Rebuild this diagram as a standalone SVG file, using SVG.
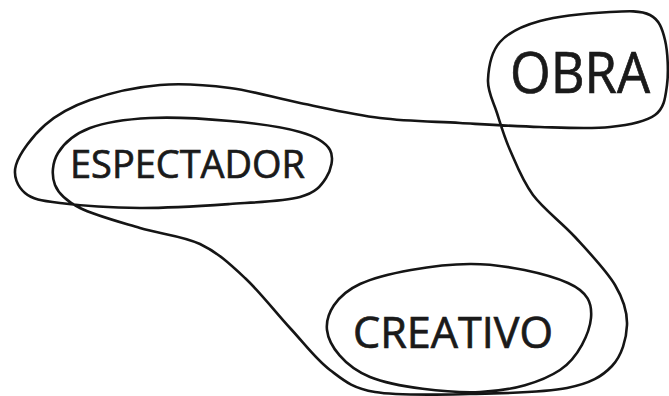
<svg xmlns="http://www.w3.org/2000/svg" width="669" height="396" viewBox="0 0 669 396">
<style>
.ln{fill:none;stroke:#151515;stroke-width:2.6;stroke-linecap:round;stroke-linejoin:round}
.lb{font-family:"Open Sans","Noto Sans","Liberation Sans",sans-serif;fill:#1a1a1a;stroke:#1a1a1a;stroke-width:0.7;font-weight:400}
</style>
<rect width="669" height="396" fill="#ffffff"/>
<g id="connectors">
<path class="ln" d="M300,197 C316,192.7 321,185.8 326,178 C331,170.2 334.3,157.7 330,150 C325.7,142.3 316.7,136.8 300,132 C283.3,127.2 255,123.3 230,121 C205,118.7 173.3,116.8 150,118 C126.7,119.2 105.3,122.2 90,128 C74.7,133.8 63.8,143.5 58,153 C52.2,162.5 51.3,175.8 55,185 C58.7,194.2 65.8,200.8 80,208 C94.2,215.2 120,222 140,228 C160,234 182.5,235.7 200,244 C217.5,252.3 230,264 245,278 C260,292 275.8,312.7 290,328 C304.2,343.3 315.8,359.3 330,370 C344.2,380.7 351.7,388 375,392 C398.3,396 438,394.7 470,394 C502,393.3 543.3,392.7 567,388 C590.7,383.3 602,376.5 612,366 C622,355.5 626.5,338.5 627,325 C627.5,311.5 623.7,299.7 615,285 C606.3,270.3 588.7,252 575,237 C561.3,222 543.8,209.5 533,195 C522.2,180.5 516,163.7 510,150 C504,136.3 500.7,124.7 497,113 C493.3,101.3 487.5,91.8 488,80 C488.5,68.2 491.3,51.8 500,42 C508.7,32.2 521.7,26 540,21 C558.3,16 591.7,13 610,12 C628.3,11 640.8,10.3 650,15 C659.2,19.7 662.2,28.3 665,40 C667.8,51.7 668.7,72.5 667,85 C665.3,97.5 664.5,108 655,115 C645.5,122 629.2,125 610,127 C590.8,129 565,127.7 540,127 C515,126.3 486.7,124.5 460,123 C433.3,121.5 406.7,121.3 380,118 C353.3,114.7 325,108 300,103 C275,98 253.3,91 230,88 C206.7,85 183.3,83 160,85 C136.7,87 109.2,93.3 90,100 C70.8,106.7 57.3,114.2 45,125 C32.7,135.8 19.3,153.7 16,165 C12.7,176.3 17.7,186.7 25,193 C32.3,199.3 40.8,200.5 60,203 C79.2,205.5 111.7,207.8 140,208 C168.3,208.2 203.3,205.8 230,204 C256.7,202.2 284,201.3 300,197 Z"/>
</g>
<g id="node-espectador">
<text class="lb" x="70" y="178" font-size="39" textLength="235" lengthAdjust="spacingAndGlyphs">ESPECTADOR</text>
</g>
<g id="node-obra">
<text class="lb" x="510" y="93" font-size="57" textLength="140" lengthAdjust="spacingAndGlyphs">OBRA</text>
</g>
<g id="node-creativo">
<path class="ln" d="M327,330 C325.3,314.5 336.2,295 360,284 C383.8,273 435.3,264.2 470,264 C504.7,263.8 547.8,274 568,283 C588.2,292 592.3,303.5 591,318 C589.7,332.5 578.5,357.7 560,370 C541.5,382.3 511.7,390.8 480,392 C448.3,393.2 395.5,387.3 370,377 C344.5,366.7 328.7,345.5 327,330 Z"/>
<text class="lb" x="353" y="348" font-size="43" textLength="200" lengthAdjust="spacingAndGlyphs">CREATIVO</text>
</g>
</svg>
